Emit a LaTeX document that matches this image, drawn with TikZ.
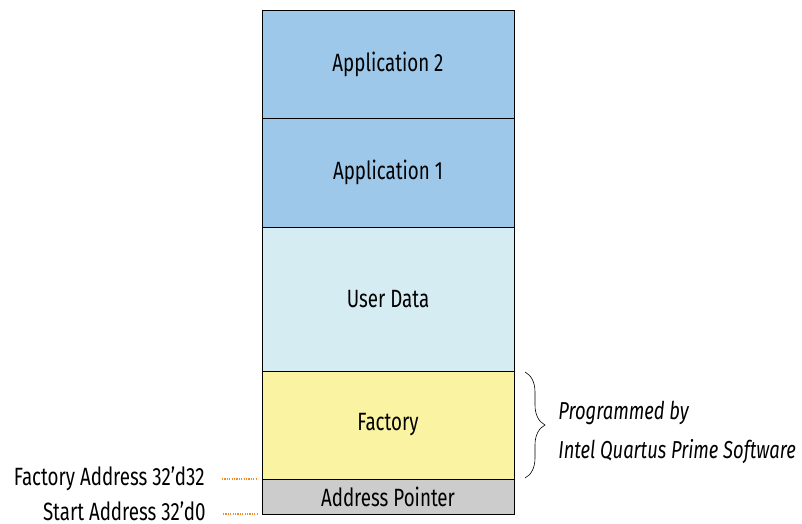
\documentclass[tikz,border=0pt]{standalone}
\usepackage{fontspec}
\setmainfont{Fira Sans}[FakeStretch=0.75]
\usetikzlibrary{positioning,decorations.pathreplacing}
\definecolor{appblue}{RGB}{158,200,233}
\definecolor{userblue}{RGB}{213,236,243}
\definecolor{factyellow}{RGB}{250,243,161}
\definecolor{ptrgray}{RGB}{204,204,204}
\definecolor{dotorange}{RGB}{240,140,40}

\begin{document}
\begin{tikzpicture}[x=1pt,y=1pt,line width=0.8pt,
  seg/.style={draw,minimum width=252pt,inner sep=0pt,outer sep=0pt,font=\fontsize{25}{28}\selectfont},
  addr/.style={inner sep=0pt,font=\fontsize{25}{28}\selectfont},
  addrline/.style={dotorange,line width=1.3pt,dash pattern=on 1.2pt off 1.2pt,shorten <=17pt,shorten >=4pt}]
  \useasboundingbox (0,0) rectangle (802,523);
  % --- bloques de memoria ---
  \node[seg,fill=ptrgray,minimum height=35pt] (ptr) at (388,26.5) {Address Pointer};
  \node[seg,fill=factyellow,minimum height=108pt,above=0pt of ptr] (fact) {Factory};
  \node[seg,fill=userblue,minimum height=144pt,above=0pt of fact] (user) {User Data};
  \node[seg,fill=appblue,minimum height=109pt,above=0pt of user] (app1) {Application 1};
  \node[seg,fill=appblue,minimum height=108pt,above=0pt of app1] (app2) {Application 2};
  % --- direcciones ---
  \node[addr,anchor=east] (factaddr) at ([xshift=-57pt]ptr.north west) {Factory Address 32’d32};
  \node[addr,anchor=east] (startaddr) at ([xshift=-56pt,yshift=3pt]ptr.south west) {Start Address 32’d0};
  \draw[addrline] (factaddr.east) -- (ptr.north west);
  \draw[addrline] (startaddr.east |- ptr.south west) -- (ptr.south west);
  % --- llave ---
  \draw[line width=0.6pt,decorate,decoration={brace,amplitude=20pt}]
    ([xshift=11pt,yshift=-1pt]fact.north east) -- ([xshift=11pt,yshift=1pt]fact.south east);
  \node[addr,anchor=west,align=left,font=\fontsize{24.5}{39}\selectfont\itshape] (progtext)
    at ([xshift=44pt,yshift=-7pt]fact.east) {Programmed by\\Intel Quartus Prime Software};
\end{tikzpicture}
\end{document}
